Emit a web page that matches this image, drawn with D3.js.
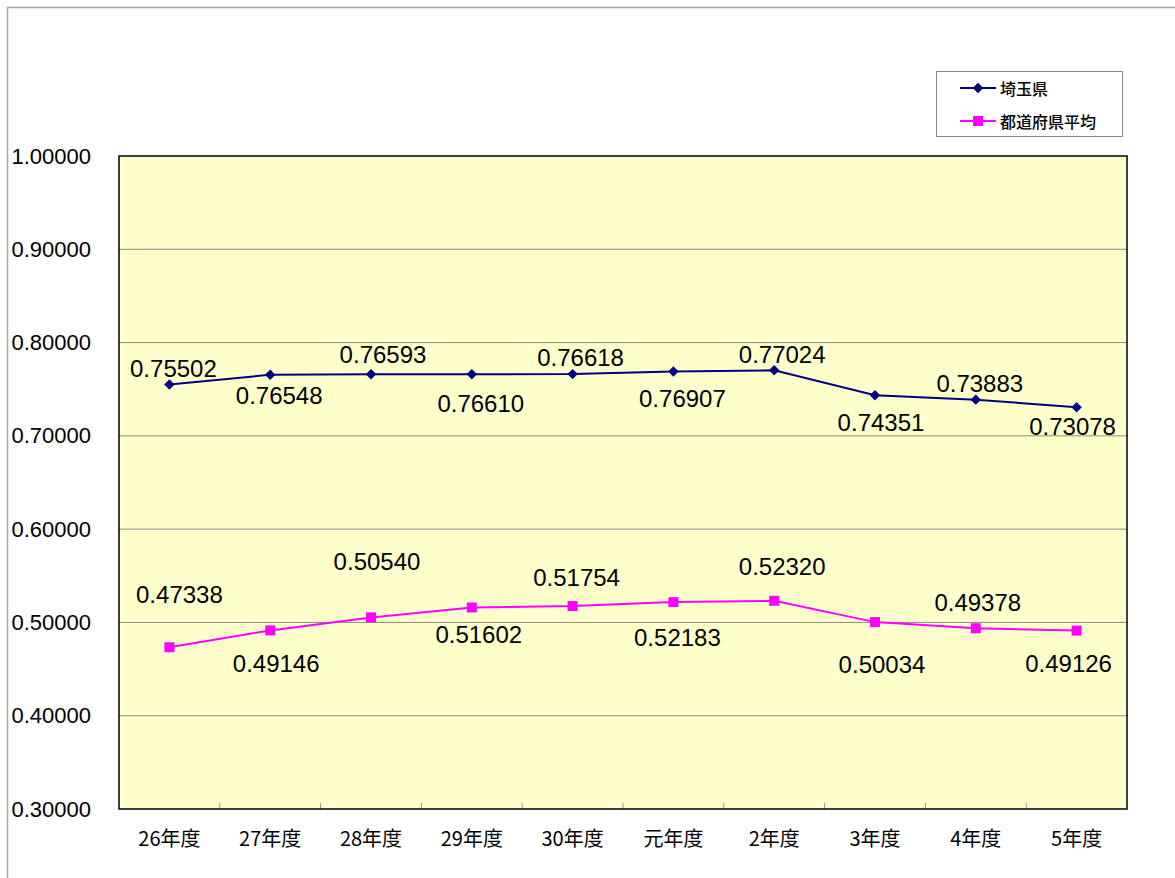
<!DOCTYPE html>
<html>
<head>
<meta charset="utf-8">
<script src="https://cdn.jsdelivr.net/npm/d3@7"></script>
<style>
  html, body { margin: 0; padding: 0; background: #fff; }
  svg { display: block; }
</style>
</head>
<body>
<svg id="chart" width="1175" height="878"></svg>
<script>
// data
const categories = ['26年度', '27年度', '28年度', '29年度', '30年度', '元年度', '2年度', '3年度', '4年度', '5年度'];
const saitama = [0.75502, 0.76548, 0.76593, 0.76610, 0.76618, 0.76907, 0.77024, 0.74351, 0.73883, 0.73078];
const average = [0.47338, 0.49146, 0.50540, 0.51602, 0.51754, 0.52183, 0.52320, 0.50034, 0.49378, 0.49126];
const yTicks = [0.3, 0.4, 0.5, 0.6, 0.7, 0.8, 0.9, 1.0];
const seriesNames = ['埼玉県', '都道府県平均'];

// label placement (pixel offsets from the point, as in the original)
const saitamaLabelDx = [4, 9, 12, 9, 8, 9, 8, 6, 4, -4];
const saitamaLabelDy = [-16, 21, -20, 29, -17, 27, -16, 27, -16, 19];
const averageLabelDx = [10, 6, 6, 7, 4, 4, 8, 7, 2, -8];
const averageLabelDy = [-53, 33, -56, 27, -29, 35, -34, 42, -26, 33];

function drawChart() {
  const svg = d3.select('svg#chart');
  const plot = { left: 119, top: 156, right: 1127, bottom: 809 };
  const numFont = '"Liberation Sans", Arial, sans-serif';
  const jpFont = '"Noto Sans CJK JP", sans-serif';

  // outer frame
  svg.append('rect')
    .attr('x', 7.5).attr('y', 7.5)
    .attr('width', 1200).attr('height', 900)
    .attr('fill', 'none')
    .attr('stroke', '#a6a6a6')
    .attr('stroke-width', 1.5);

  const x = d3.scaleBand()
    .domain(categories)
    .range([plot.left, plot.right]);
  const y = d3.scaleLinear()
    .domain([0.3, 1.0])
    .range([plot.bottom, plot.top]);

  // plot background
  svg.append('rect')
    .attr('x', plot.left).attr('y', plot.top)
    .attr('width', plot.right - plot.left)
    .attr('height', plot.bottom - plot.top)
    .attr('fill', '#ffffcc');

  // gridlines
  svg.append('g')
    .selectAll('line')
    .data(yTicks.slice(1, -1))
    .enter()
    .append('line')
    .attr('x1', plot.left).attr('x2', plot.right)
    .attr('y1', (d) => y(d)).attr('y2', (d) => y(d))
    .attr('stroke', '#8c8c80')
    .attr('stroke-width', 1);

  // category ticks on bottom (inward)
  svg.append('g')
    .selectAll('line')
    .data(categories.slice(1))
    .enter()
    .append('line')
    .attr('x1', (d) => x(d)).attr('x2', (d) => x(d))
    .attr('y1', plot.bottom).attr('y2', plot.bottom - 6)
    .attr('stroke', '#9a9a90')
    .attr('stroke-width', 1);

  // plot border
  svg.append('rect')
    .attr('x', plot.left).attr('y', plot.top)
    .attr('width', plot.right - plot.left)
    .attr('height', plot.bottom - plot.top)
    .attr('fill', 'none')
    .attr('stroke', '#000')
    .attr('stroke-width', 1.5);

  // y axis labels
  svg.append('g')
    .selectAll('text')
    .data(yTicks)
    .enter()
    .append('text')
    .attr('x', 91)
    .attr('y', (d) => y(d))
    .attr('text-anchor', 'end')
    .attr('dominant-baseline', 'central')
    .attr('font-family', numFont)
    .attr('font-size', '22px')
    .attr('fill', '#000')
    .text((d) => d.toFixed(5));

  // x axis labels
  svg.append('g')
    .selectAll('text')
    .data(categories)
    .enter()
    .append('text')
    .attr('x', (d) => x(d) + x.bandwidth() / 2)
    .attr('y', 837)
    .attr('text-anchor', 'middle')
    .attr('dominant-baseline', 'central')
    .attr('font-family', jpFont)
    .attr('font-size', '20px')
    .attr('fill', '#000')
    .text((d) => d);

  const cx = (i) => x(categories[i]) + x.bandwidth() / 2;

  const series = [
    { values: saitama, color: '#000080', marker: d3.symbolDiamond2, size: 70, dx: saitamaLabelDx, dy: saitamaLabelDy },
    { values: average, color: '#ff00ff', marker: d3.symbolSquare, size: 100, dx: averageLabelDx, dy: averageLabelDy },
  ];

  series.forEach((s) => {
    const line = d3.line()
      .x((d, i) => cx(i))
      .y((d) => y(d));

    svg.append('path')
      .datum(s.values)
      .attr('d', line)
      .attr('fill', 'none')
      .attr('stroke', s.color)
      .attr('stroke-width', 2);

    svg.append('g')
      .selectAll('path')
      .data(s.values)
      .enter()
      .append('path')
      .attr('transform', (d, i) => `translate(${cx(i)} ${y(d)})`)
      .attr('d', d3.symbol().type(s.marker).size(s.size))
      .attr('fill', s.color);

    svg.append('g')
      .selectAll('text')
      .data(s.values)
      .enter()
      .append('text')
      .attr('x', (d, i) => cx(i) + s.dx[i])
      .attr('y', (d, i) => y(d) + s.dy[i])
      .attr('text-anchor', 'middle')
      .attr('dominant-baseline', 'central')
      .attr('font-family', numFont)
      .attr('font-size', '24px')
      .attr('fill', '#000')
      .text((d) => d.toFixed(5));
  });

  // legend
  const legend = svg.append('g');
  legend.append('rect')
    .attr('x', 936.5).attr('y', 71.5)
    .attr('width', 186).attr('height', 65)
    .attr('fill', '#fff')
    .attr('stroke', '#888')
    .attr('stroke-width', 1);

  series.forEach((s, i) => {
    const ly = 88 + i * 33;
    legend.append('line')
      .attr('x1', 960).attr('x2', 996)
      .attr('y1', ly).attr('y2', ly)
      .attr('stroke', s.color)
      .attr('stroke-width', 2);
    legend.append('path')
      .attr('transform', `translate(978 ${ly})`)
      .attr('d', d3.symbol().type(s.marker).size(s.size))
      .attr('fill', s.color);
    legend.append('text')
      .attr('x', 1000)
      .attr('y', ly)
      .attr('dominant-baseline', 'central')
      .attr('font-family', jpFont)
      .attr('font-size', '16px')
      .attr('font-weight', 500)
      .attr('fill', '#000')
      .text(seriesNames[i]);
  });
}

window.addEventListener('load', function() {
  drawChart();
});
</script>
</body>
</html>
